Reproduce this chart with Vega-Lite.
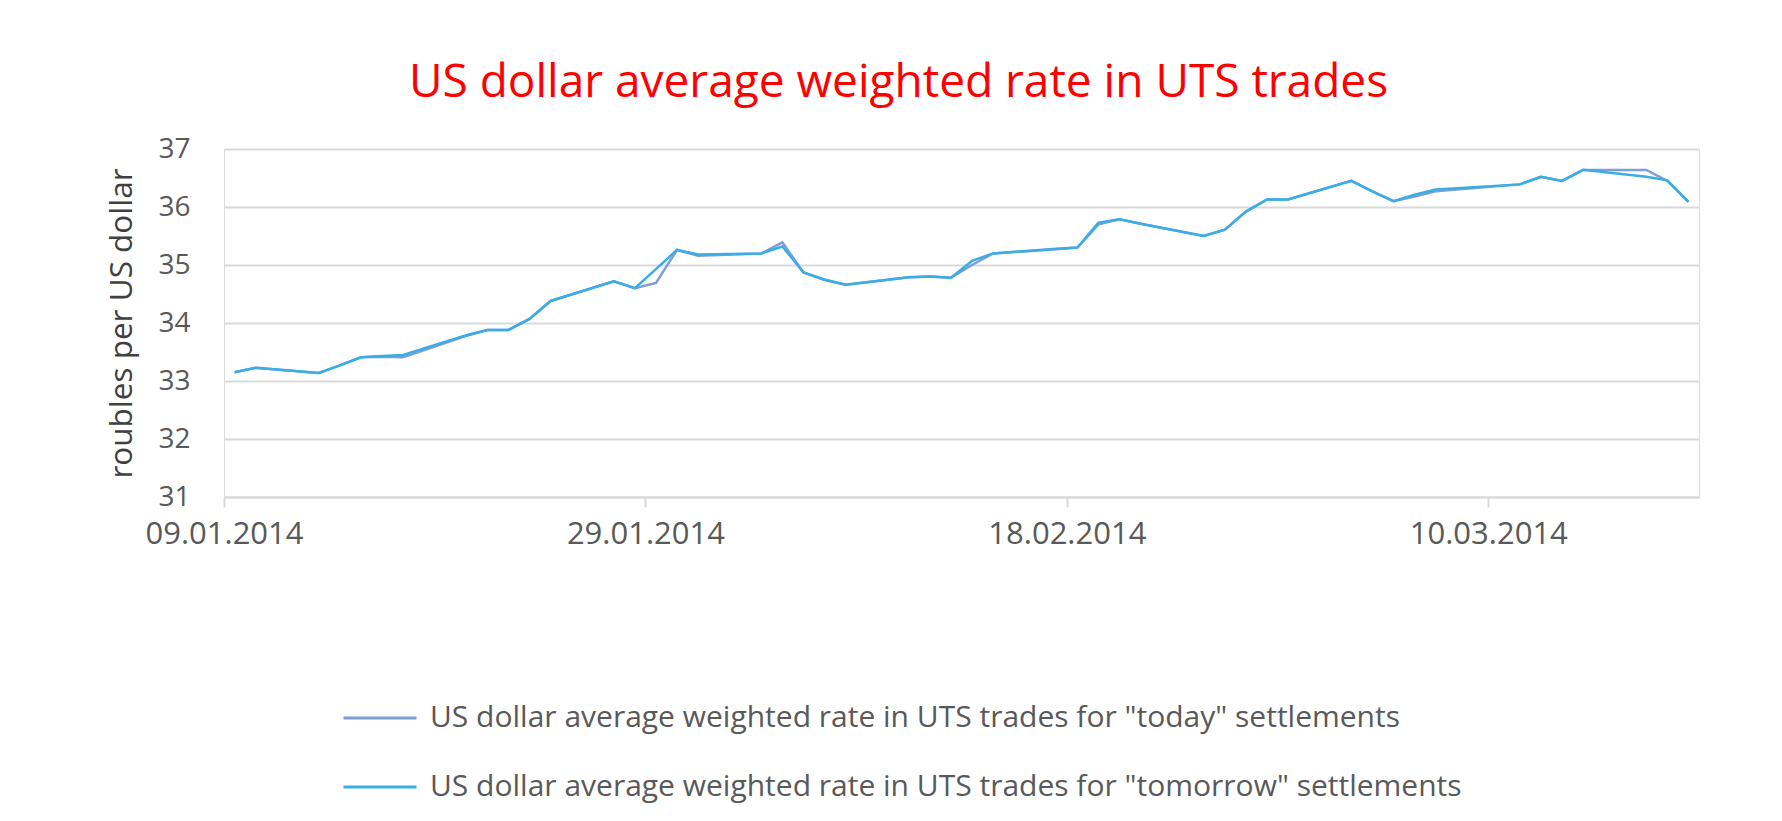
{
  "$schema": "https://vega.github.io/schema/vega-lite/v6.json",
  "width": 1475,
  "height": 348,
  "autosize": "none",
  "padding": {"left": 224, "top": 149, "right": 83, "bottom": 324},
  "background": "white",
  "title": {
    "text": "US dollar average weighted rate in UTS trades",
    "color": "#FF0000",
    "font": "Open Sans",
    "fontSize": 46,
    "fontWeight": "normal",
    "anchor": "middle",
    "dx": -63,
    "offset": 28
  },
  "datasets": {
    "rates": [
      {"date": "2014-01-09", "today": 33.15, "tomorrow": 33.15},
      {"date": "2014-01-10", "today": 33.23, "tomorrow": 33.23},
      {"date": "2014-01-13", "today": 33.14, "tomorrow": 33.14},
      {"date": "2014-01-14", "today": 33.27, "tomorrow": 33.27},
      {"date": "2014-01-15", "today": 33.41, "tomorrow": 33.41},
      {"date": "2014-01-16", "today": 33.42, "tomorrow": 33.43},
      {"date": "2014-01-17", "today": 33.41, "tomorrow": 33.45},
      {"date": "2014-01-20", "today": 33.78, "tomorrow": 33.79},
      {"date": "2014-01-21", "today": 33.88, "tomorrow": 33.88},
      {"date": "2014-01-22", "today": 33.88, "tomorrow": 33.88},
      {"date": "2014-01-23", "today": 34.07, "tomorrow": 34.07},
      {"date": "2014-01-24", "today": 34.38, "tomorrow": 34.38},
      {"date": "2014-01-27", "today": 34.72, "tomorrow": 34.72},
      {"date": "2014-01-28", "today": 34.60, "tomorrow": 34.60},
      {"date": "2014-01-29", "today": 34.69, "tomorrow": 34.93},
      {"date": "2014-01-30", "today": 35.26, "tomorrow": 35.26},
      {"date": "2014-01-31", "today": 35.16, "tomorrow": 35.18},
      {"date": "2014-02-03", "today": 35.20, "tomorrow": 35.20},
      {"date": "2014-02-04", "today": 35.39, "tomorrow": 35.32},
      {"date": "2014-02-05", "today": 34.87, "tomorrow": 34.87},
      {"date": "2014-02-06", "today": 34.74, "tomorrow": 34.75},
      {"date": "2014-02-07", "today": 34.66, "tomorrow": 34.66},
      {"date": "2014-02-10", "today": 34.79, "tomorrow": 34.79},
      {"date": "2014-02-11", "today": 34.80, "tomorrow": 34.80},
      {"date": "2014-02-12", "today": 34.78, "tomorrow": 34.78},
      {"date": "2014-02-13", "today": 35.00, "tomorrow": 35.07},
      {"date": "2014-02-14", "today": 35.20, "tomorrow": 35.20},
      {"date": "2014-02-17", "today": 35.27, "tomorrow": 35.28},
      {"date": "2014-02-18", "today": 35.30, "tomorrow": 35.30},
      {"date": "2014-02-19", "today": 35.70, "tomorrow": 35.73},
      {"date": "2014-02-20", "today": 35.79, "tomorrow": 35.79},
      {"date": "2014-02-21", "today": 35.71, "tomorrow": 35.71},
      {"date": "2014-02-24", "today": 35.50, "tomorrow": 35.50},
      {"date": "2014-02-25", "today": 35.61, "tomorrow": 35.61},
      {"date": "2014-02-26", "today": 35.92, "tomorrow": 35.92},
      {"date": "2014-02-27", "today": 36.13, "tomorrow": 36.13},
      {"date": "2014-02-28", "today": 36.13, "tomorrow": 36.13},
      {"date": "2014-03-03", "today": 36.45, "tomorrow": 36.45},
      {"date": "2014-03-04", "today": 36.27, "tomorrow": 36.27},
      {"date": "2014-03-05", "today": 36.10, "tomorrow": 36.10},
      {"date": "2014-03-06", "today": 36.18, "tomorrow": 36.21},
      {"date": "2014-03-07", "today": 36.27, "tomorrow": 36.30},
      {"date": "2014-03-11", "today": 36.39, "tomorrow": 36.39},
      {"date": "2014-03-12", "today": 36.52, "tomorrow": 36.52},
      {"date": "2014-03-13", "today": 36.45, "tomorrow": 36.45},
      {"date": "2014-03-14", "today": 36.64, "tomorrow": 36.64},
      {"date": "2014-03-17", "today": 36.64, "tomorrow": 36.52},
      {"date": "2014-03-18", "today": 36.45, "tomorrow": 36.46},
      {"date": "2014-03-19", "today": 36.09, "tomorrow": 36.09}
    ]
  },
  "data": {"name": "rates"},
  "transform": [
    {"fold": ["today", "tomorrow"], "as": ["settlement", "rate"]},
    {"calculate": "datum.settlement === 'today' ? 'US dollar average weighted rate in UTS trades for \"today\" settlements' : 'US dollar average weighted rate in UTS trades for \"tomorrow\" settlements'", "as": "series"}
  ],
  "mark": {"type": "line", "strokeWidth": 2.5, "interpolate": "linear"},
  "encoding": {
    "x": {
      "field": "date",
      "type": "temporal",
      "timeUnit": "utcyearmonthdate",
      "bandPosition": 0.5,
      "scale": {"type": "utc", "domain": [{"year": 2014, "month": 1, "date": 9, "utc": true}, {"year": 2014, "month": 3, "date": 20, "utc": true}]},
      "axis": {
        "title": null,
        "values": [{"year": 2014, "month": 1, "date": 9, "utc": true}, {"year": 2014, "month": 1, "date": 29, "utc": true}, {"year": 2014, "month": 2, "date": 18, "utc": true}, {"year": 2014, "month": 3, "date": 10, "utc": true}],
        "format": "%d.%m.%Y",
        "grid": false,
        "domainColor": "#D9D9D9",
        "domainWidth": 2,
        "tickColor": "#D9D9D9",
        "tickWidth": 2,
        "tickSize": 10,
        "labelFont": "Open Sans",
        "labelFontSize": 31,
        "labelColor": "#595959",
        "labelPadding": 12,
        "labelFlush": false,
        "labelOverlap": false
      }
    },
    "y": {
      "field": "rate",
      "type": "quantitative",
      "scale": {"domain": [31, 37], "nice": false, "zero": false},
      "axis": {
        "title": "roubles per US dollar",
        "titleFont": "Open Sans",
        "titleFontSize": 31.5,
        "titleFontWeight": "normal",
        "titleColor": "#404040",
        "titlePadding": 19,
        "values": [31, 32, 33, 34, 35, 36, 37],
        "domain": false,
        "ticks": false,
        "tickSize": 0,
        "grid": true,
        "gridColor": "#D9D9D9",
        "gridWidth": 2,
        "labelFont": "Open Sans",
        "labelFontSize": 28,
        "labelColor": "#595959",
        "labelPadding": 34
      }
    },
    "color": {
      "field": "series",
      "type": "nominal",
      "scale": {
        "domain": ["US dollar average weighted rate in UTS trades for \"today\" settlements", "US dollar average weighted rate in UTS trades for \"tomorrow\" settlements"],
        "range": ["#7B9FD6", "#3AADE6"]
      },
      "legend": {
        "title": null,
        "orient": "none",
        "legendX": 118,
        "legendY": 531,
        "direction": "vertical",
        "symbolType": "stroke",
        "symbolSize": 5329,
        "symbolStrokeWidth": 3,
        "labelFont": "Open Sans",
        "labelFontSize": 30,
        "labelColor": "#595959",
        "labelOffset": 12,
        "labelLimit": 0,
        "rowPadding": 16,
        "padding": 0
      }
    },
    "order": {"field": "settlement"}
  }
}
